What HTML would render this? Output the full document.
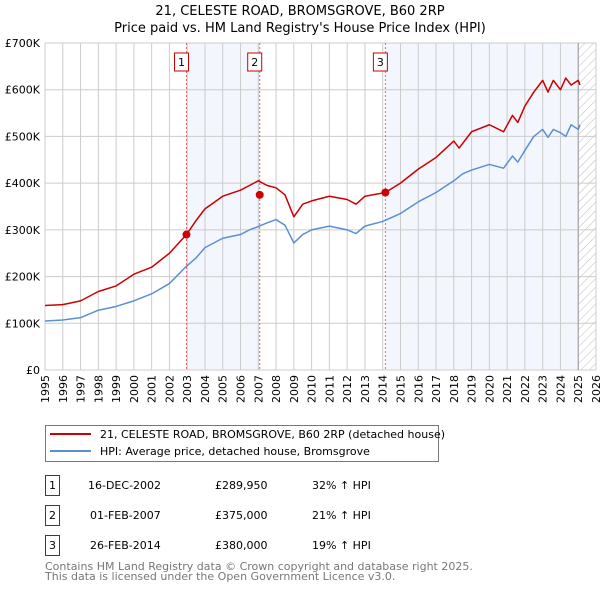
<!DOCTYPE html>
<html><head><meta charset="utf-8"><style>
body{margin:0;background:#fff;font-family:"Liberation Sans","DejaVu Sans",sans-serif;}
svg{display:block}
</style></head><body>
<svg width="600" height="590" xmlns="http://www.w3.org/2000/svg" font-family="DejaVu Sans, Liberation Sans, sans-serif">
<defs><pattern id="hatch" width="6" height="6" patternUnits="userSpaceOnUse" patternTransform="rotate(45)"><line x1="0" y1="0" x2="0" y2="6" stroke="#bbb" stroke-width="1"/></pattern></defs>
<text x="300" y="15" text-anchor="middle" font-size="13">21, CELESTE ROAD, BROMSGROVE, B60 2RP</text>
<text x="300" y="32" text-anchor="middle" font-size="13">Price paid vs. HM Land Registry's House Price Index (HPI)</text>
<g id="plot"></g>
<g>
<rect x="45.5" y="425.5" width="393" height="36" fill="#fff" stroke="#777"/>
<line x1="50" y1="434" x2="91" y2="434" stroke="#cc0000" stroke-width="2"/>
<text x="100" y="438" font-size="11">21, CELESTE ROAD, BROMSGROVE, B60 2RP (detached house)</text>
<line x1="50" y1="451" x2="91" y2="451" stroke="#5b8fd4" stroke-width="2"/>
<text x="100" y="455" font-size="11">HPI: Average price, detached house, Bromsgrove</text>
</g>
<g font-size="11">
<rect x="45.5" y="475.5" width="14" height="20" fill="none" stroke="#cc0000"/><text x="52.5" y="489" text-anchor="middle">1</text>
<text x="88" y="489">16-DEC-2002</text><text x="215" y="489">£289,950</text><text x="312" y="489">32% ↑ HPI</text>
<rect x="45.5" y="505.5" width="14" height="20" fill="none" stroke="#cc0000"/><text x="52.5" y="519" text-anchor="middle">2</text>
<text x="90" y="519">01-FEB-2007</text><text x="215" y="519">£375,000</text><text x="312" y="519">21% ↑ HPI</text>
<rect x="45.5" y="535.5" width="14" height="20" fill="none" stroke="#cc0000"/><text x="52.5" y="549" text-anchor="middle">3</text>
<text x="90" y="549">26-FEB-2014</text><text x="215" y="549">£380,000</text><text x="312" y="549">19% ↑ HPI</text>
</g>
<text x="45" y="570" font-size="11" fill="#777">Contains HM Land Registry data © Crown copyright and database right 2025.</text>
<text x="45" y="580" font-size="11" fill="#777">This data is licensed under the Open Government Licence v3.0.</text>
</svg>
<script>
const yTicks=[0,100,200,300,400,500,600,700];
const yTickLabels=["£0","£100K","£200K","£300K","£400K","£500K","£600K","£700K"];
const years=[1995,1996,1997,1998,1999,2000,2001,2002,2003,2004,2005,2006,2007,2008,2009,2010,2011,2012,2013,2014,2015,2016,2017,2018,2019,2020,2021,2022,2023,2024,2025,2026];
const hpiDates=[1995,1996,1997,1997.5,1998,1999,2000,2001,2002,2002.9,2003.5,2004,2005,2006,2006.5,2007,2007.5,2008,2008.5,2009,2009.5,2010,2011,2012,2012.5,2013,2014,2015,2016,2017,2018,2018.5,2019,2020,2020.8,2021.3,2021.6,2022,2022.5,2023,2023.3,2023.6,2024,2024.3,2024.6,2025,2025.1];
const hpiValues=[105,107,112,120,128,136,148,163,185,220,240,262,282,290,300,307,315,322,310,272,290,300,308,300,292,308,318,335,360,380,405,420,428,440,432,458,445,470,500,515,498,515,508,500,525,515,525];
const priceDates=[1995,1996,1997,1998,1999,2000,2001,2002,2002.96,2003.5,2004,2005,2006,2006.5,2007,2007.5,2008,2008.5,2009,2009.5,2010,2011,2012,2012.5,2013,2014.15,2015,2016,2017,2018,2018.3,2019,2020,2020.8,2021.3,2021.6,2022,2022.5,2023,2023.3,2023.6,2024,2024.3,2024.6,2025,2025.1];
const priceValues=[138,140,148,168,180,205,220,250,290,320,345,372,385,395,405,395,390,375,328,355,362,372,365,355,372,380,400,430,455,490,475,510,525,510,545,530,565,595,620,595,620,600,625,610,620,610];
const saleDates=[2002.96,2007.08,2014.15];
const saleValues=[289.95,375,380];
const saleLabels=["1","2","3"];
const X0=45,X1=596,Y0=370,Y1=43;
const x=d=>X0+(d-1995)/(2026-1995)*(X1-X0);
const y=v=>Y0-v/700*(Y0-Y1);
const NS="http://www.w3.org/2000/svg";
const g=document.getElementById('plot');
function mk(t,a,p){const e=document.createElementNS(NS,t);for(const k in a)e.setAttribute(k,a[k]);(p||g).appendChild(e);return e;}
const pr=x(2025.0);
let r;
r=mk('rect',{x:x(saleDates[0]),y:Y1,width:x(saleDates[1])-x(saleDates[0]),height:Y0-Y1,fill:'#f3f6fd'});


r=mk('rect',{x:x(saleDates[2]),y:Y1,width:pr-x(saleDates[2]),height:Y0-Y1,fill:'#f3f6fd'});


r=mk('rect',{x:pr,y:Y1,width:X1-pr,height:Y0-Y1,fill:'url(#hatch)'});


years.forEach(yr=>{
 const l=mk('line',{x1:x(yr),x2:x(yr),y1:Y1,y2:Y0,stroke:'#ccc','stroke-width':1});
 
 
 const tx=x(yr)+4, ty=375;
 const t=mk('text',{x:tx,y:ty,'text-anchor':'end','font-size':11,transform:'rotate(-90 '+tx+' '+ty+')'});
 
 
 t.textContent=yr;
});
yTicks.forEach((v,i)=>{
 const l=mk('line',{x1:X0,x2:X1,y1:y(v),y2:y(v),stroke:'#ccc','stroke-width':1});
 
 
 const t=mk('text',{x:40,y:y(v)+4,'text-anchor':'end','font-size':11});
 
 
 t.textContent=yTickLabels[i];
});
r=mk('line',{x1:pr,x2:pr,y1:Y1,y2:Y0,stroke:'#999','stroke-width':1});


saleDates.forEach((d,i)=>{
 const l=mk('line',{x1:x(d),x2:x(d),y1:Y1,y2:Y0,stroke:'#e06666','stroke-width':1,'stroke-dasharray':'2,2'});
 
 
 const b=mk('rect',{x:x(d)-12,y:53,width:14,height:18,fill:'#fff',stroke:'#cc0000'});
 
 
 const t=mk('text',{x:x(d)-5,y:66,'text-anchor':'middle','font-size':11});
 
 
 t.textContent=saleLabels[i];
});
function line(ds,vs,c,name){
 const p=mk('polyline',{points:ds.map((d,i)=>x(d)+','+y(vs[i])).join(' '),fill:'none',stroke:c,'stroke-width':1.5,'stroke-linejoin':'round'});
 
 
}
line(hpiDates,hpiValues,'#5b8fd4','hpi-line');
line(priceDates,priceValues,'#cc0000','price-line');
saleDates.forEach((d,i)=>{
 const c=mk('circle',{cx:x(d),cy:y(saleValues[i]),r:4,fill:'#cc0000'});
 
 
});
</script>
</body></html>
